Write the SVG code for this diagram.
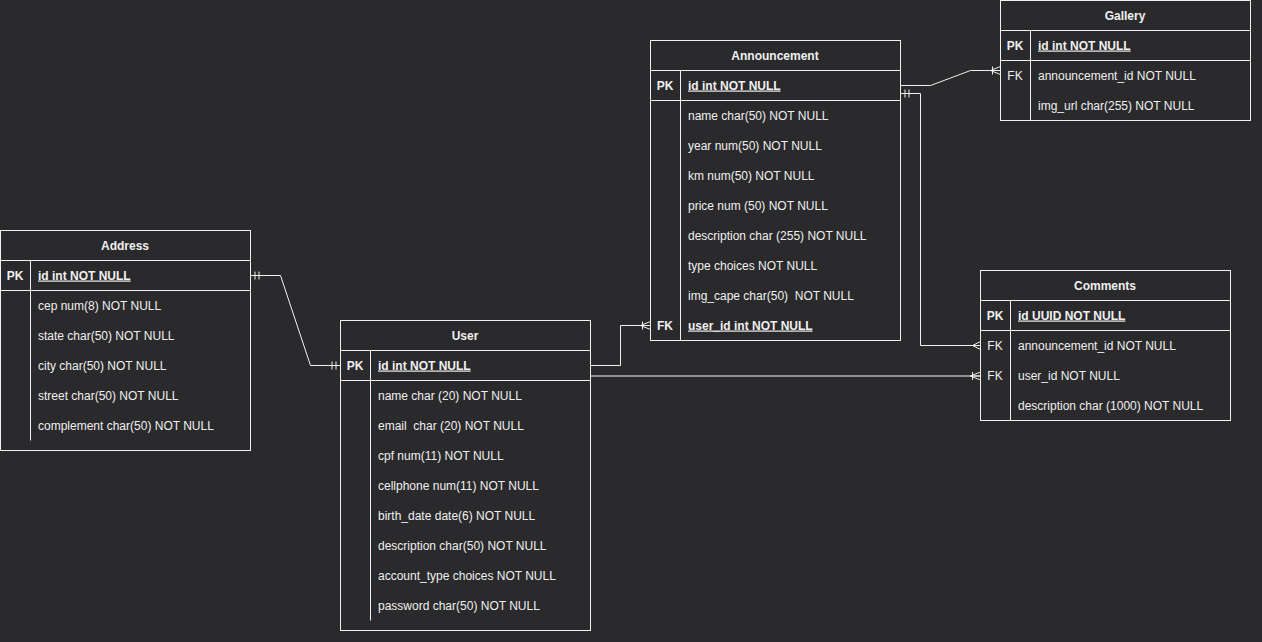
<svg xmlns="http://www.w3.org/2000/svg" width="1262" height="642" viewBox="0 0 1262 642">
  <defs>
    <style>
      .bg { fill: #2a2a2c; }
      .tbl { fill: #2a2a2c; stroke: #f0f0f0; stroke-width: 1; }
      .ln { stroke: #f0f0f0; stroke-width: 1; fill: none; }
      .conn { stroke: #f0f0f0; stroke-width: 1; fill: none; }
      text { font-family: "Liberation Sans", Arial, Helvetica, sans-serif; font-size: 12px; fill: #f0f0f0; }
      .hd { font-weight: bold; text-anchor: middle; }
      .key { font-weight: bold; text-anchor: middle; }
      .fk { text-anchor: middle; }
      .pk { font-weight: bold; text-decoration: underline; }
    </style>
    <!-- ER "mandatory one" start: two bars -->
    <marker id="mandOne" markerUnits="userSpaceOnUse" markerWidth="12" markerHeight="12" viewBox="0 -6 12 12" refX="0" refY="0" orient="auto">
      <path d="M4.5,-4 V4 M8.5,-4 V4" stroke="#f0f0f0" stroke-width="1" fill="none"/>
    </marker>
    <!-- ER "mandatory one" end: two bars -->
    <marker id="mandOneEnd" markerUnits="userSpaceOnUse" markerWidth="12" markerHeight="12" viewBox="-12 -6 12 12" refX="0" refY="0" orient="auto">
      <path d="M-4.5,-4 V4 M-8.5,-4 V4" stroke="#f0f0f0" stroke-width="1" fill="none"/>
    </marker>
    <!-- ER "one to many" end: crow's foot with a bar -->
    <marker id="oneMany" markerUnits="userSpaceOnUse" markerWidth="14" markerHeight="12" viewBox="-12 -6 14 12" refX="0" refY="0" orient="auto">
      <path d="M-10,0 L0,-4 M-10,0 L0,4 M-10,0 L0,0 M-8,-4 V4" stroke="#f0f0f0" stroke-width="1" fill="none"/>
    </marker>
    <!-- ER "many" end: crow's foot only -->
    <marker id="many" markerUnits="userSpaceOnUse" markerWidth="14" markerHeight="12" viewBox="-12 -6 14 12" refX="0" refY="0" orient="auto">
      <path d="M-8,0 L0,-4 M-8,0 L0,4 M-8,0 L0,0" stroke="#f0f0f0" stroke-width="1" fill="none"/>
    </marker>
  </defs>

  <rect class="bg" x="0" y="0" width="1262" height="642"/>

  <!-- relationships -->
  <g id="connectors">
    <path class="conn" d="M250.5,275.5 H280.5 L310.5,365.5 H340.5" marker-start="url(#mandOne)" marker-end="url(#mandOneEnd)"/>
    <path class="conn" d="M590.5,365.5 H620.5 V325.5 H650.5" marker-end="url(#oneMany)"/>
    <path class="conn" d="M590.5,376 H980.5" marker-end="url(#oneMany)"/>
    <path class="conn" d="M900.5,85.5 H930.5 L970.5,70.5 H1000.5" marker-end="url(#oneMany)"/>
    <path class="conn" d="M900.5,93.5 H920.5 V345.5 H980.5" marker-start="url(#mandOne)" marker-end="url(#many)"/>
  </g>

  <!-- Address -->
  <g id="address">
    <rect class="tbl" x="0.5" y="230.5" width="250" height="220"/>
    <path class="ln" d="M0.5,260.5 H250.5 M0.5,290.5 H250.5 M30.5,260.5 V440.5"/>
    <text class="hd" x="125" y="249.5">Address</text>
    <text class="key" x="15" y="279.5">PK</text>
    <text class="pk" x="38" y="279.5">id int NOT NULL</text>
    <text x="38" y="309.5">cep num(8) NOT NULL</text>
    <text x="38" y="339.5">state char(50) NOT NULL</text>
    <text x="38" y="369.5">city char(50) NOT NULL</text>
    <text x="38" y="399.5">street char(50) NOT NULL</text>
    <text x="38" y="429.5">complement char(50) NOT NULL</text>
  </g>

  <!-- User -->
  <g id="user">
    <rect class="tbl" x="340.5" y="320.5" width="250" height="310"/>
    <path class="ln" d="M340.5,350.5 H590.5 M340.5,380.5 H590.5 M370.5,350.5 V620.5"/>
    <text class="hd" x="465" y="339.5">User</text>
    <text class="key" x="355" y="369.5">PK</text>
    <text class="pk" x="378" y="369.5">id int NOT NULL</text>
    <text x="378" y="399.5">name char (20) NOT NULL</text>
    <text x="378" y="429.5" xml:space="preserve">email  char (20) NOT NULL</text>
    <text x="378" y="459.5">cpf num(11) NOT NULL</text>
    <text x="378" y="489.5">cellphone num(11) NOT NULL</text>
    <text x="378" y="519.5">birth_date date(6) NOT NULL</text>
    <text x="378" y="549.5">description char(50) NOT NULL</text>
    <text x="378" y="579.5">account_type choices NOT NULL</text>
    <text x="378" y="609.5">password char(50) NOT NULL</text>
  </g>

  <!-- Announcement -->
  <g id="announcement">
    <rect class="tbl" x="650.5" y="40.5" width="250" height="300"/>
    <path class="ln" d="M650.5,70.5 H900.5 M650.5,100.5 H900.5 M680.5,70.5 V340.5"/>
    <text class="hd" x="775" y="59.5">Announcement</text>
    <text class="key" x="665" y="89.5">PK</text>
    <text class="pk" x="688" y="89.5">id int NOT NULL</text>
    <text x="688" y="119.5">name char(50) NOT NULL</text>
    <text x="688" y="149.5">year num(50) NOT NULL</text>
    <text x="688" y="179.5">km num(50) NOT NULL</text>
    <text x="688" y="209.5">price num (50) NOT NULL</text>
    <text x="688" y="239.5">description char (255) NOT NULL</text>
    <text x="688" y="269.5">type choices NOT NULL</text>
    <text x="688" y="299.5" xml:space="preserve">img_cape char(50)  NOT NULL</text>
    <text class="key" x="665" y="329.5">FK</text>
    <text class="pk" x="688" y="329.5">user_id int NOT NULL</text>
  </g>

  <!-- Gallery -->
  <g id="gallery">
    <rect class="tbl" x="1000.5" y="0.5" width="250" height="120"/>
    <path class="ln" d="M1000.5,30.5 H1250.5 M1000.5,60.5 H1250.5 M1030.5,30.5 V120.5"/>
    <text class="hd" x="1125" y="19.5">Gallery</text>
    <text class="key" x="1015" y="49.5">PK</text>
    <text class="pk" x="1038" y="49.5">id int NOT NULL</text>
    <text class="fk" x="1015" y="79.5">FK</text>
    <text x="1038" y="79.5">announcement_id NOT NULL</text>
    <text x="1038" y="109.5">img_url char(255) NOT NULL</text>
  </g>

  <!-- Comments -->
  <g id="comments">
    <rect class="tbl" x="980.5" y="270.5" width="250" height="150"/>
    <path class="ln" d="M980.5,300.5 H1230.5 M980.5,330.5 H1230.5 M1010.5,300.5 V420.5"/>
    <text class="hd" x="1105" y="289.5">Comments</text>
    <text class="key" x="995" y="319.5">PK</text>
    <text class="pk" x="1018" y="319.5">id UUID NOT NULL</text>
    <text class="fk" x="995" y="349.5">FK</text>
    <text x="1018" y="349.5">announcement_id NOT NULL</text>
    <text class="fk" x="995" y="379.5">FK</text>
    <text x="1018" y="379.5">user_id NOT NULL</text>
    <text x="1018" y="409.5">description char (1000) NOT NULL</text>
  </g>
</svg>
